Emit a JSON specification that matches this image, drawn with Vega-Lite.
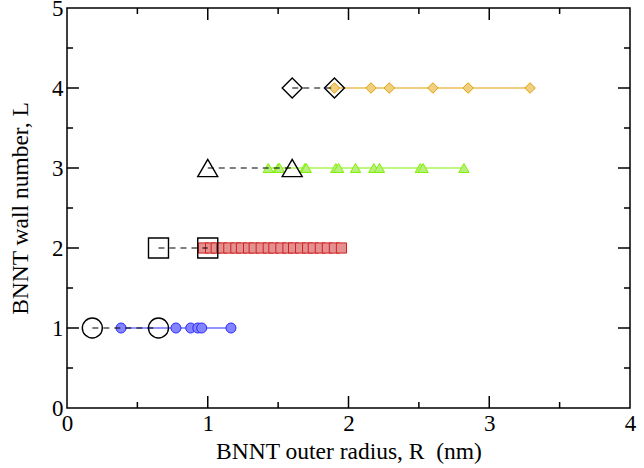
{
  "$schema": "https://vega.github.io/schema/vega-lite/v6.json",
  "width": 563,
  "height": 400,
  "autosize": {"type": "none"},
  "padding": {"left": 67, "top": 8, "right": 14, "bottom": 60},
  "config": {
    "view": {"stroke": "black", "strokeWidth": 1.5},
    "font": "Liberation Serif",
    "axis": {
      "grid": false,
      "domain": false,
      "ticks": false,
      "labelFont": "Liberation Serif",
      "labelFontSize": 23,
      "labelColor": "black",
      "labelFlush": false,
      "labelOverlap": false,
      "titleFont": "Liberation Serif",
      "titleFontSize": 23.5,
      "titleFontWeight": "normal",
      "titleColor": "black"
    }
  },
  "datasets": {
    "open": [
      {"R": 0.18, "L": 1}, {"R": 0.65, "L": 1},
      {"R": 0.65, "L": 2}, {"R": 1.0, "L": 2},
      {"R": 1.0, "L": 3}, {"R": 1.6, "L": 3},
      {"R": 1.6, "L": 4}, {"R": 1.9, "L": 4}
    ],
    "filled": [
      {"R": 0.384, "L": 1}, {"R": 0.774, "L": 1}, {"R": 0.879, "L": 1}, {"R": 0.929, "L": 1}, {"R": 0.957, "L": 1}, {"R": 1.165, "L": 1},
      {"R": 0.97, "L": 2}, {"R": 1.02, "L": 2}, {"R": 1.06, "L": 2}, {"R": 1.10, "L": 2}, {"R": 1.15, "L": 2}, {"R": 1.20, "L": 2}, {"R": 1.24, "L": 2}, {"R": 1.29, "L": 2}, {"R": 1.33, "L": 2}, {"R": 1.38, "L": 2}, {"R": 1.43, "L": 2}, {"R": 1.47, "L": 2}, {"R": 1.52, "L": 2}, {"R": 1.57, "L": 2}, {"R": 1.61, "L": 2}, {"R": 1.66, "L": 2}, {"R": 1.71, "L": 2}, {"R": 1.75, "L": 2}, {"R": 1.80, "L": 2}, {"R": 1.85, "L": 2}, {"R": 1.90, "L": 2}, {"R": 1.95, "L": 2},
      {"R": 1.43, "L": 3}, {"R": 1.50, "L": 3}, {"R": 1.51, "L": 3}, {"R": 1.69, "L": 3}, {"R": 1.70, "L": 3}, {"R": 1.91, "L": 3}, {"R": 1.93, "L": 3}, {"R": 2.05, "L": 3}, {"R": 2.18, "L": 3}, {"R": 2.22, "L": 3}, {"R": 2.51, "L": 3}, {"R": 2.53, "L": 3}, {"R": 2.82, "L": 3},
      {"R": 1.90, "L": 4}, {"R": 2.16, "L": 4}, {"R": 2.29, "L": 4}, {"R": 2.60, "L": 4}, {"R": 2.85, "L": 4}, {"R": 3.29, "L": 4}
    ],
    "ticksX": [
      {"v": 0.5, "k": "minor"}, {"v": 1, "k": "major"}, {"v": 1.5, "k": "minor"}, {"v": 2, "k": "major"},
      {"v": 2.5, "k": "minor"}, {"v": 3, "k": "major"}, {"v": 3.5, "k": "minor"}
    ],
    "ticksY": [
      {"v": 0.5, "k": "minor"}, {"v": 1, "k": "major"}, {"v": 1.5, "k": "minor"}, {"v": 2, "k": "major"},
      {"v": 2.5, "k": "minor"}, {"v": 3, "k": "major"}, {"v": 3.5, "k": "minor"}, {"v": 4, "k": "major"}, {"v": 4.5, "k": "minor"}
    ]
  },
  "layer": [
    {
      "data": {"name": "filled"},
      "mark": {"type": "line", "strokeWidth": 1.2},
      "encoding": {
        "x": {"field": "R", "type": "quantitative", "scale": {"domain": [0, 4], "nice": false},
          "axis": {
            "orient": "bottom",
            "values": [0, 1, 2, 3, 4],
            "format": "d",
            "labelPadding": 4,
            "title": "BNNT outer radius, R\u00a0 (nm)",
            "titlePadding": 4
          }},
        "y": {"field": "L", "type": "quantitative", "scale": {"domain": [0, 5], "nice": false},
          "axis": {
            "orient": "left",
            "values": [0, 1, 2, 3, 4, 5],
            "format": "d",
            "labelPadding": 4,
            "title": "BNNT wall number, L",
            "titlePadding": 19
          }},
        "detail": {"field": "L", "type": "nominal"},
        "stroke": {"field": "L", "type": "nominal", "legend": null,
          "scale": {"domain": [1, 2, 3, 4], "range": ["#2a2aff", "#d02020", "#80f000", "#e0a000"]}}
      }
    },
    {
      "data": {"name": "filled"},
      "mark": {"type": "point", "filled": true, "opacity": 1, "strokeWidth": 1, "fillOpacity": 1},
      "encoding": {
        "x": {"field": "R", "type": "quantitative"},
        "y": {"field": "L", "type": "quantitative"},
        "shape": {"field": "L", "type": "nominal", "legend": null,
          "scale": {"domain": [1, 2, 3, 4], "range": ["circle", "square", "triangle-up", "diamond"]}},
        "fill": {"field": "L", "type": "nominal", "legend": null,
          "scale": {"domain": [1, 2, 3, 4], "range": ["#8484ff", "#e49090", "#b8f080", "#f0d080"]}},
        "stroke": {"field": "L", "type": "nominal", "legend": null},
        "size": {"field": "L", "type": "nominal", "legend": null,
          "scale": {"domain": [1, 2, 3, 4], "range": [100, 110, 150, 160]}}
      }
    },
    {
      "data": {"name": "open"},
      "mark": {"type": "line", "color": "black", "strokeWidth": 1.2, "strokeDash": [6, 5]},
      "encoding": {
        "x": {"field": "R", "type": "quantitative"},
        "y": {"field": "L", "type": "quantitative"},
        "detail": {"field": "L", "type": "nominal"}
      }
    },
    {
      "data": {"name": "open"},
      "mark": {"type": "point", "filled": false, "color": "black", "strokeWidth": 1.4, "opacity": 1},
      "encoding": {
        "x": {"field": "R", "type": "quantitative"},
        "y": {"field": "L", "type": "quantitative"},
        "shape": {"field": "L", "type": "nominal", "legend": null},
        "size": {"field": "L", "type": "nominal", "legend": null,
          "scale": {"domain": [1, 2, 3, 4], "range": [400, 400, 530, 530]}}
      }
    },
    {
      "data": {"name": "ticksX"},
      "mark": {"type": "tick", "orient": "vertical", "clip": true, "color": "black", "thickness": 1.5, "opacity": 1},
      "encoding": {
        "x": {"field": "v", "type": "quantitative"},
        "y": {"datum": 0, "type": "quantitative"},
        "size": {"field": "k", "type": "nominal", "legend": null, "scale": {"domain": ["minor", "major"], "range": [12, 24]}}
      }
    },
    {
      "data": {"name": "ticksX"},
      "mark": {"type": "tick", "orient": "vertical", "clip": true, "color": "black", "thickness": 1.5, "opacity": 1},
      "encoding": {
        "x": {"field": "v", "type": "quantitative"},
        "y": {"datum": 5, "type": "quantitative"},
        "size": {"field": "k", "type": "nominal", "legend": null, "scale": {"domain": ["minor", "major"], "range": [12, 24]}}
      }
    },
    {
      "data": {"name": "ticksY"},
      "mark": {"type": "tick", "orient": "horizontal", "clip": true, "color": "black", "thickness": 1.5, "opacity": 1},
      "encoding": {
        "y": {"field": "v", "type": "quantitative"},
        "x": {"datum": 0, "type": "quantitative"},
        "size": {"field": "k", "type": "nominal", "legend": null, "scale": {"domain": ["minor", "major"], "range": [12, 24]}}
      }
    },
    {
      "data": {"name": "ticksY"},
      "mark": {"type": "tick", "orient": "horizontal", "clip": true, "color": "black", "thickness": 1.5, "opacity": 1},
      "encoding": {
        "y": {"field": "v", "type": "quantitative"},
        "x": {"datum": 4, "type": "quantitative"},
        "size": {"field": "k", "type": "nominal", "legend": null, "scale": {"domain": ["minor", "major"], "range": [12, 24]}}
      }
    }
  ],
  "resolve": {"scale": {"size": "independent"}}
}
